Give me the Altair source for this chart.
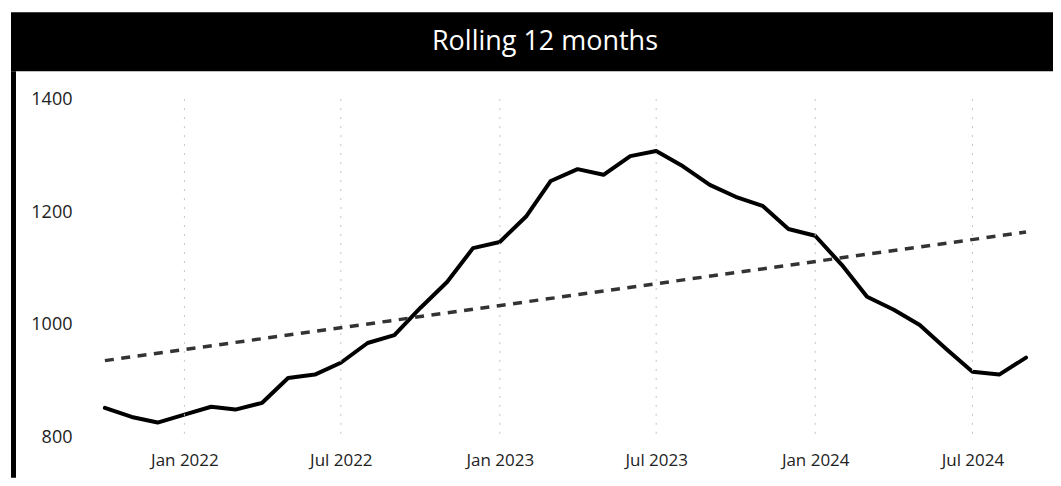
import altair as alt
import pandas as pd

# ---- data ----
months = pd.date_range("2021-10-01", "2024-09-01", freq="MS")
values = [853, 837, 827, 841, 855, 850, 862, 906, 912, 933,
          968, 982, 1030, 1076, 1136, 1147, 1193, 1255, 1276, 1266,
          1299, 1308, 1281, 1248, 1227, 1211, 1170, 1158, 1106, 1050,
          1027, 1000, 957, 917, 912, 942]
tick_dates = ["2022-01-01", "2022-07-01", "2023-01-01",
              "2023-07-01", "2024-01-01", "2024-07-01"]
y_ticks = [800, 1000, 1200, 1400]
title_text = "Rolling 12 months"

df = pd.DataFrame({"date": months, "value": values})
grid_df = pd.DataFrame({"date": pd.to_datetime(tick_dates)})
tick_dt = [alt.DateTime(year=int(d[:4]), month=int(d[5:7]), date=int(d[8:10]))
           for d in tick_dates]

FONT = "Open Sans"
LABEL = "#222222"

x_enc = alt.X(
    "date:T",
    scale=alt.Scale(nice=False),
    axis=alt.Axis(values=tick_dt, format="%b %Y", title=None, grid=False,
                  ticks=False, domain=False, labelFont=FONT, labelFontSize=17,
                  labelColor=LABEL, labelPadding=15),
)
y_scale = alt.Scale(domain=[800, 1400], range=[367, 28], nice=False, zero=False)
y_enc = alt.Y(
    "value:Q",
    scale=y_scale,
    axis=alt.Axis(values=y_ticks, format="d", title=None, grid=False,
                  ticks=False, domain=False, labelFont=FONT, labelFontSize=18,
                  labelColor=LABEL, labelPadding=33, minExtent=88),
)

grid = alt.Chart(grid_df).mark_rule(
    color="#c4c4c4", strokeWidth=1, strokeDash=[2, 7]
).encode(
    x=alt.X("date:T"),
    y=alt.datum(1400),
    y2=alt.datum(795),
)

trend = alt.Chart(df).transform_regression("date", "value").mark_line(
    color="#333333", strokeWidth=3.5, strokeDash=[9, 7.5]
).encode(x=alt.X("date:T"), y=alt.Y("value:Q"))

line = alt.Chart(df).mark_line(
    color="black", strokeWidth=4, strokeJoin="round", strokeCap="round"
).encode(x=x_enc, y=y_enc)

main = alt.layer(line, grid, trend).properties(width=922, height=367)

title_bar = alt.Chart(pd.DataFrame({"t": [title_text]})).mark_text(
    color="white", fontSize=27, font=FONT, dx=13, baseline="middle"
).encode(text="t:N").properties(
    width=1043, height=59,
    view=alt.ViewBackground(fill="black", strokeWidth=0),
)

strip = alt.Chart(pd.DataFrame({"t": [0]})).mark_point(opacity=0).properties(
    width=5, height=407,
    view=alt.ViewBackground(fill="black", strokeWidth=0),
)

chart = alt.vconcat(
    title_bar,
    alt.hconcat(strip, main, spacing=0),
    spacing=0,
).properties(
    padding={"left": 2, "top": 4, "right": 0, "bottom": 0}
).configure_view(strokeWidth=0)

chart.save("out.html", embed_options={"renderer": "svg", "actions": False})
